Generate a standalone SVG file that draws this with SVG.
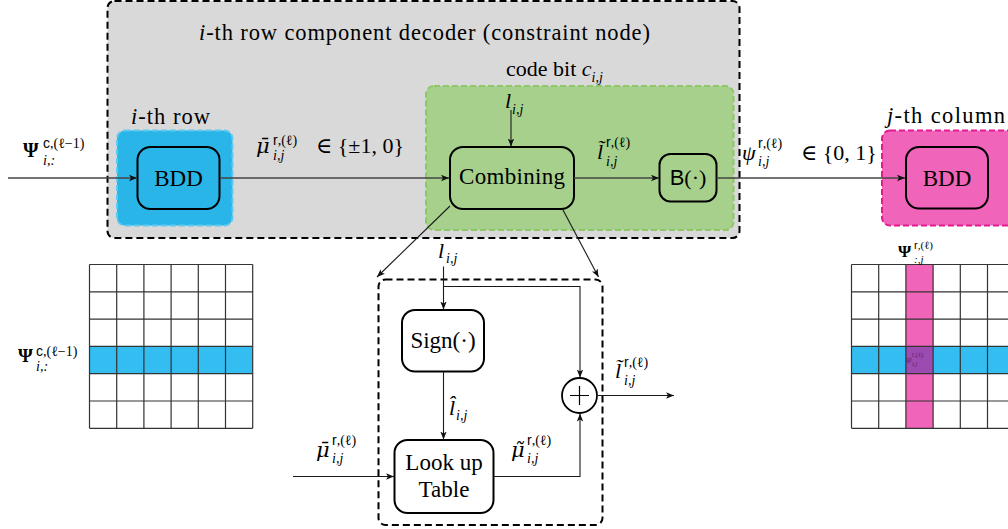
<svg xmlns="http://www.w3.org/2000/svg" width="1008" height="529" viewBox="0 0 1008 529" font-family="'Liberation Serif', 'Times New Roman', 'DejaVu Serif', serif">
<defs>
<marker id="arr" viewBox="0 0 10 10" refX="10" refY="5" markerWidth="8" markerHeight="8" markerUnits="userSpaceOnUse" orient="auto">
<path d="M0,1 L10,5 L0,9 L2.5,5 z" fill="#111"/>
</marker>
</defs>
<style>
.it{font-style:italic}
.up{font-style:normal}
.sf{font-family:'Liberation Sans','DejaVu Sans',sans-serif;font-style:normal}
.dv{font-family:'DejaVu Serif',serif;font-size:21px}
.bf{font-weight:bold}
.conn{stroke:#1a1a1a;stroke-width:1.1;fill:none}
.main{stroke:#444;stroke-width:1.5;fill:none}
.node{stroke:#000;stroke-width:2}
.grid{stroke:#333;stroke-width:1.2;fill:none}
.t22{font-size:22px}
.s14{font-size:14px}
</style>
<rect width="1008" height="529" fill="#fff"/>

<g id="constraint-node">
<rect x="107.5" y="1" width="632" height="237" rx="7" fill="#d9d9d9" stroke="#000" stroke-width="2" stroke-dasharray="7,4"/>
<text x="199" y="40" font-size="22.5" textLength="451"><tspan class="it">i</tspan>-th row component decoder (constraint node)</text>
</g>

<g id="row-bdd">
<rect x="117" y="130.5" width="115.5" height="95" rx="8" fill="#29b5e8" stroke="#5ccaf2" stroke-width="2" stroke-dasharray="6,3"/>
<text x="131" y="124" font-size="22.5" textLength="79"><tspan class="it">i</tspan>-th row</text>
<rect x="137.5" y="147" width="82" height="62" rx="13" fill="#29b5e8" class="node"/>
<text x="178.5" y="186" font-size="23" text-anchor="middle">BDD</text>
</g>

<g id="code-bit">
<rect x="426" y="86" width="307.5" height="144" rx="8" fill="#a6d08b" stroke="#8cc867" stroke-width="2" stroke-dasharray="6,3"/>
<text x="506" y="76" font-size="22">code bit <tspan class="it">c</tspan><tspan class="it s14" dy="6">i,j</tspan></text>
</g>

<g id="combining">
<rect x="450" y="147" width="124" height="62" rx="13" fill="#a6d08b" class="node"/>
<text x="512" y="184" font-size="23" text-anchor="middle" textLength="106">Combining</text>
</g>

<g id="bfun">
<rect x="659.5" y="154" width="57" height="47.5" rx="11" fill="#a6d08b" class="node"/>
<text x="688" y="185" class="t22" text-anchor="middle"><tspan class="sf">B</tspan>(·)</text>
</g>

<g id="col-bdd">
<rect x="882" y="130.5" width="140" height="95" rx="8" fill="#f064b9" stroke="#e31b8f" stroke-width="2" stroke-dasharray="6,3"/>
<text x="887" y="123" font-size="22.5" textLength="118"><tspan class="it">j</tspan>-th column</text>
<rect x="906" y="147" width="82" height="61.5" rx="13" fill="#f064b9" class="node"/>
<text x="947" y="186" font-size="23" text-anchor="middle">BDD</text>
</g>

<g id="detail-box">
<rect x="378.5" y="279.5" width="224" height="245.5" rx="7" fill="none" stroke="#000" stroke-width="2" stroke-dasharray="7,4"/>
</g>

<g id="sign">
<rect x="402" y="310" width="82" height="61.5" rx="13" fill="#fff" class="node"/>
<text x="443" y="348" font-size="23" text-anchor="middle">Sign(·)</text>
</g>

<g id="lut">
<rect x="394.5" y="440" width="99" height="73" rx="13" fill="#fff" class="node"/>
<text x="444" y="470" font-size="23" text-anchor="middle">Look up</text>
<text x="444" y="497" font-size="23" text-anchor="middle">Table</text>
</g>

<g id="adder">
<circle cx="579.5" cy="395.5" r="17.5" fill="#fff" stroke="#000" stroke-width="1.8"/>
<path d="M570,395.5 H589 M579.5,386 V405" stroke="#000" stroke-width="1.2"/>
</g>

<g id="grid-left">
<rect x="89.5" y="346.4" width="163.2" height="27.3" fill="#33bdf0"/>
<path class="grid" d="M89.5,264.5V428.3M116.7,264.5V428.3M143.9,264.5V428.3M171.1,264.5V428.3M198.3,264.5V428.3M225.5,264.5V428.3M252.7,264.5V428.3
M89.5,264.5H252.7M89.5,291.8H252.7M89.5,319.1H252.7M89.5,346.4H252.7M89.5,373.7H252.7M89.5,401H252.7M89.5,428.3H252.7"/>
<text x="18" y="362" class="bf" font-size="19">Ψ<tspan class="s14" font-weight="normal" x="36" y="356"><tspan class="sf">c</tspan>,(ℓ−1)</tspan><tspan class="s14 it" font-weight="normal" x="36" y="371">i,:</tspan></text>
</g>

<g id="grid-right">
<rect x="851.5" y="346.4" width="163.2" height="27.3" fill="#33bdf0"/>
<rect x="905.9" y="264.5" width="27.2" height="163.8" fill="#f064b9"/>
<rect x="905.9" y="346.4" width="27.2" height="27.3" fill="#9c4bb0"/>
<path class="grid" d="M851.5,264.5V428.3M878.7,264.5V428.3M905.9,264.5V428.3M933.1,264.5V428.3M960.3,264.5V428.3M987.5,264.5V428.3
M851.5,264.5H1010M851.5,291.8H1010M851.5,319.1H1010M851.5,346.4H1010M851.5,373.7H1010M851.5,401H1010M851.5,428.3H1010"/>
<text x="898" y="257" class="bf" font-size="17">Ψ<tspan font-size="11" font-weight="normal" x="914" y="249"><tspan class="sf">r</tspan>,(ℓ)</tspan><tspan font-size="11" font-weight="normal" class="it" x="914" y="263">:,j</tspan></text>
<text x="906" y="362" font-size="9" class="it" fill="#5a1f6e">ψ<tspan font-size="6.5" class="up" x="912" y="357"><tspan class="sf">r</tspan>,(ℓ)</tspan><tspan font-size="6.5" x="912" y="366">i,j</tspan></text>
</g>

<g id="connectors">
<path class="main" d="M8,178 H137" marker-end="url(#arr)"/>
<path class="main" d="M220,178 H449" marker-end="url(#arr)"/>
<path class="main" d="M574,178 H659" marker-end="url(#arr)"/>
<path class="main" d="M716.5,178 H905" marker-end="url(#arr)"/>
<path class="conn" d="M511,110 V146.5" marker-end="url(#arr)"/>
<path class="conn" d="M450,206 L377,277" marker-end="url(#arr)"/>
<path class="conn" d="M562.5,209 L598.5,277" marker-end="url(#arr)"/>
<path class="conn" d="M443.5,266.5 V309.5" marker-end="url(#arr)"/>
<path class="conn" d="M443.5,286.5 H580 V377.5" marker-end="url(#arr)"/>
<path class="conn" d="M443.5,371.5 V439.5" marker-end="url(#arr)"/>
<path class="conn" d="M493.5,476.5 H580 V413.5" marker-end="url(#arr)"/>
<path class="conn" d="M293,476.5 H394" marker-end="url(#arr)"/>
<path class="conn" d="M597,395.5 H674" marker-end="url(#arr)"/>
</g>

<g id="labels">
<text x="23" y="157" class="bf" font-size="20">Ψ<tspan class="s14" font-weight="normal" x="43" y="148"><tspan class="sf">c</tspan>,(ℓ−1)</tspan><tspan class="s14 it" font-weight="normal" x="43" y="165">i,:</tspan></text>

<text x="256" y="153" class="t22 it"><tspan class="dv">μ̄</tspan><tspan class="s14 up" x="273" y="145"><tspan class="sf">r</tspan>,(ℓ)</tspan><tspan class="s14" x="273" y="160">i,j</tspan><tspan class="up" x="316" y="153">∈ {±1, 0}</tspan></text>

<text x="505" y="108" class="t22 it">l<tspan class="s14" x="512" y="114">i,j</tspan></text>

<text x="597" y="159" class="t22 it">l̃<tspan class="s14 up" x="606" y="147"><tspan class="sf">r</tspan>,(ℓ)</tspan><tspan class="s14" x="606" y="166">i,j</tspan></text>

<text x="742" y="160" class="t22 it">ψ<tspan class="s14 up" x="758" y="148"><tspan class="sf">r</tspan>,(ℓ)</tspan><tspan class="s14" x="758" y="166">i,j</tspan><tspan class="up" x="801" y="160">∈ {0, 1}</tspan></text>

<text x="438" y="258" class="t22 it">l<tspan class="s14" x="446" y="263">i,j</tspan></text>

<text x="449" y="415" class="t22 it">l̂<tspan class="s14" x="456" y="420">i,j</tspan></text>

<text x="316" y="457" class="t22 it"><tspan class="dv">μ̄</tspan><tspan class="s14 up" x="332" y="445"><tspan class="sf">r</tspan>,(ℓ)</tspan><tspan class="s14" x="332" y="463">i,j</tspan></text>

<text x="511" y="457" class="t22 it"><tspan class="dv">μ̃</tspan><tspan class="s14 up" x="527" y="445"><tspan class="sf">r</tspan>,(ℓ)</tspan><tspan class="s14" x="527" y="463">i,j</tspan></text>

<text x="615" y="378" class="t22 it">l̃<tspan class="s14 up" x="624" y="367"><tspan class="sf">r</tspan>,(ℓ)</tspan><tspan class="s14" x="624" y="385">i,j</tspan></text>
</g>
</svg>
